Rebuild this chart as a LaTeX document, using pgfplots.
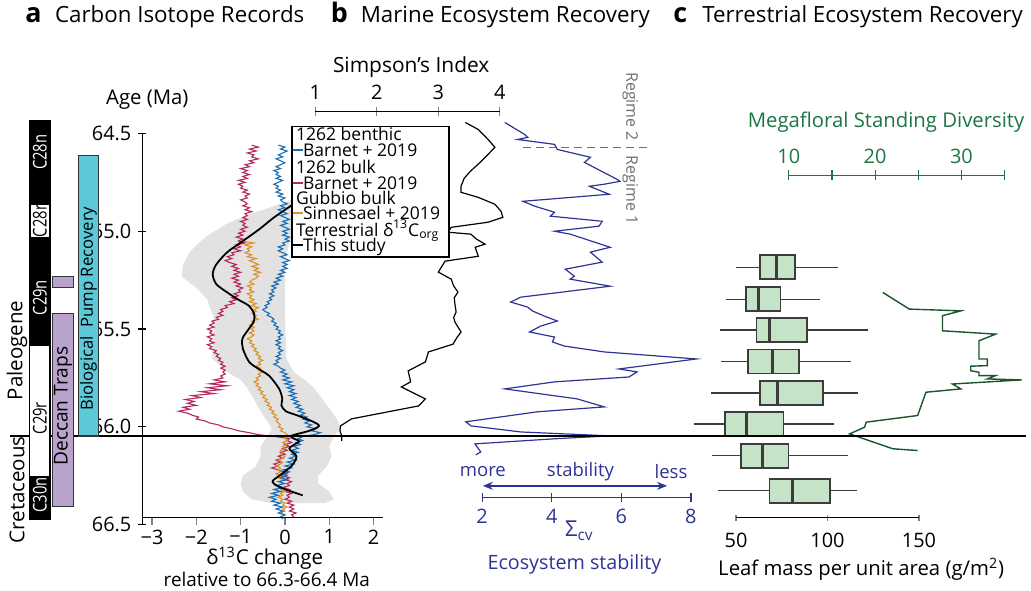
\documentclass[border=0pt]{standalone}
\usepackage{pgfplots}
\pgfplotsset{compat=1.18}
\usepackage{pgfplotstable}
\usepgfplotslibrary{fillbetween,statistics}
\usetikzlibrary{arrows.meta}
\usepackage{fontspec}
\setmainfont{Open Sans}
\newfontfamily\narrowfont[FakeStretch=0.78]{Open Sans}
\newcommand{\fs}[1]{\fontsize{#1pt}{#1pt}\selectfont}

\definecolor{cBlue}{RGB}{25,110,180}
\definecolor{cRed}{RGB}{180,40,95}
\definecolor{cOrange}{RGB}{222,145,40}
\definecolor{cBand}{RGB}{226,226,226}
\definecolor{sigBlue}{RGB}{46,52,150}
\definecolor{megaGreen}{RGB}{28,118,68}
\definecolor{lineGreen}{RGB}{25,85,40}
\definecolor{boxFill}{RGB}{197,227,199}
\definecolor{boxEdge}{RGB}{60,60,60}
\definecolor{deccan}{RGB}{185,163,206}
\definecolor{pump}{RGB}{92,200,216}
\definecolor{regGray}{RGB}{110,110,110}

\pgfplotstableread{
ma d
64.56 -0.75
64.57 -0.6
64.58 -0.8
64.59 -0.65
64.60 -0.85
64.61 -0.7
64.62 -0.75
64.63 -0.6
64.64 -0.8
64.65 -0.7
64.66 -0.9
64.67 -0.8
64.68 -1.0
64.69 -0.85
64.70 -0.95
64.71 -0.8
64.72 -0.95
64.73 -0.85
64.74 -1.05
64.75 -0.9
64.76 -1.05
64.77 -0.95
64.78 -1.0
64.79 -0.85
64.80 -0.95
64.81 -0.8
64.82 -0.9
64.83 -0.85
64.84 -1.0
64.85 -0.9
64.86 -0.85
64.87 -0.95
64.88 -0.8
64.89 -0.9
64.90 -0.75
64.91 -0.9
64.92 -0.85
64.93 -0.95
64.94 -0.85
64.95 -1.0
64.96 -0.9
64.97 -0.95
64.98 -0.85
64.99 -1.0
65.00 -0.9
65.01 -1.05
65.02 -0.95
65.03 -1.1
65.04 -0.95
65.05 -1.05
65.06 -0.9
65.07 -1.1
65.08 -1.0
65.09 -1.15
65.10 -1.0
65.11 -1.2
65.12 -1.15
65.13 -1.3
65.14 -1.2
65.15 -1.35
65.16 -1.25
65.17 -1.1
65.18 -1.2
65.19 -1.05
65.20 -1.15
65.21 -1.0
65.22 -1.15
65.23 -1.05
65.24 -1.2
65.25 -1.05
65.26 -1.15
65.27 -1.0
65.28 -1.1
65.29 -0.95
65.30 -1.05
65.31 -1.0
65.32 -1.15
65.33 -1.05
65.34 -1.2
65.35 -1.1
65.36 -1.25
65.37 -1.15
65.38 -1.35
65.39 -1.3
65.40 -1.45
65.41 -1.4
65.42 -1.5
65.43 -1.4
65.44 -1.55
65.45 -1.5
65.46 -1.65
65.47 -1.6
65.48 -1.7
65.49 -1.6
65.50 -1.75
65.51 -1.65
65.52 -1.7
65.53 -1.6
65.54 -1.75
65.55 -1.65
65.56 -1.7
65.57 -1.6
65.58 -1.75
65.59 -1.65
65.60 -1.7
65.61 -1.55
65.62 -1.6
65.63 -1.5
65.64 -1.55
65.65 -1.45
65.66 -1.5
65.67 -1.4
65.68 -1.45
65.69 -1.35
65.70 -1.45
65.71 -1.35
65.72 -1.4
65.73 -1.35
65.74 -1.45
65.75 -1.4
65.76 -1.6
65.77 -1.35
65.78 -1.7
65.79 -1.3
65.80 -1.75
65.81 -1.45
65.82 -1.9
65.83 -1.6
65.84 -2.1
65.85 -1.9
65.86 -2.25
65.87 -2.05
65.88 -2.2
65.89 -2.0
65.90 -2.3
65.91 -2.15
65.92 -2.4
65.93 -2.2
65.94 -2.1
65.95 -1.95
65.96 -2.0
65.97 -1.8
65.98 -1.7
65.99 -1.5
66.00 -1.4
66.01 -1.2
66.02 -1.05
66.03 -0.8
66.04 -0.6
66.05 -0.2
66.06 0.1
66.07 0.05
66.08 0.15
66.09 0.0
66.10 0.1
66.11 -0.05
66.12 0.05
66.13 -0.1
66.14 0.0
66.15 -0.15
66.16 -0.05
66.17 -0.2
66.18 -0.1
66.19 -0.25
66.20 -0.15
66.21 -0.3
66.22 -0.15
66.23 -0.05
66.24 0.05
66.25 -0.1
66.26 0.1
66.27 0.0
66.28 0.15
66.29 0.05
66.30 0.1
66.31 -0.05
66.32 0.1
66.33 0.0
66.34 0.15
66.35 0.05
66.36 0.1
66.37 0.0
66.38 0.15
66.39 0.05
66.40 0.2
66.41 0.1
66.42 0.2
66.43 0.1
66.44 0.25
66.45 0.15
66.46 0.2
}\tRed

\pgfplotstableread{
ma d
64.56 -0.15
64.57 0.0
64.58 -0.1
64.59 0.05
64.60 -0.05
64.61 -0.15
64.62 -0.05
64.63 -0.2
64.64 -0.1
64.65 0.0
64.66 -0.1
64.67 -0.2
64.68 -0.1
64.69 -0.25
64.70 -0.15
64.71 -0.2
64.72 -0.1
64.73 -0.2
64.74 -0.05
64.75 -0.15
64.76 -0.25
64.77 -0.15
64.78 -0.2
64.79 -0.1
64.80 -0.2
64.81 -0.05
64.82 -0.15
64.83 0.0
64.84 -0.1
64.85 -0.05
64.86 0.05
64.87 -0.1
64.88 0.0
64.89 -0.15
64.90 -0.05
64.91 0.05
64.92 -0.1
64.93 0.0
64.94 0.1
64.95 -0.05
64.96 0.05
64.97 -0.1
64.98 0.0
64.99 0.1
65.00 -0.05
65.01 0.05
65.02 -0.05
65.03 0.1
65.04 0.0
65.05 0.1
65.06 -0.05
65.07 0.0
65.08 -0.15
65.09 -0.05
65.10 -0.15
65.11 -0.05
65.12 0.05
65.13 -0.1
65.14 0.0
65.15 0.1
65.16 -0.05
65.17 0.05
65.18 -0.05
65.19 0.05
65.20 -0.1
65.21 0.0
65.22 -0.15
65.23 -0.05
65.24 -0.2
65.25 -0.1
65.26 -0.25
65.27 -0.15
65.28 -0.3
65.29 -0.2
65.30 -0.3
65.31 -0.25
65.32 -0.35
65.33 -0.25
65.34 -0.35
65.35 -0.3
65.36 -0.4
65.37 -0.35
65.38 -0.45
65.39 -0.4
65.40 -0.5
65.41 -0.45
65.42 -0.35
65.43 -0.4
65.44 -0.3
65.45 -0.25
65.46 -0.3
65.47 -0.2
65.48 -0.25
65.49 -0.15
65.50 -0.2
65.51 -0.1
65.52 -0.15
65.53 -0.05
65.54 -0.15
65.55 -0.1
65.56 -0.2
65.57 -0.1
65.58 -0.2
65.59 -0.1
65.60 -0.15
65.61 -0.05
65.62 -0.15
65.63 -0.1
65.64 -0.2
65.65 -0.1
65.66 -0.2
65.67 -0.15
65.68 -0.25
65.69 -0.15
65.70 -0.1
65.71 0.0
65.72 -0.1
65.73 0.05
65.74 -0.05
65.75 0.1
65.76 -0.05
65.77 0.15
65.78 0.0
65.79 0.2
65.80 0.05
65.81 0.2
65.82 0.1
65.83 0.25
65.84 0.1
65.85 0.25
65.86 0.15
65.87 0.3
65.88 0.2
65.89 0.35
65.90 0.25
65.91 0.4
65.92 0.3
65.93 0.45
65.94 0.35
65.95 0.5
65.96 0.4
65.97 0.55
65.98 0.45
65.99 0.6
66.00 0.5
66.01 0.7
66.02 0.6
66.03 0.8
66.04 0.65
66.05 0.4
66.06 0.3
66.07 0.4
66.08 0.25
66.09 0.35
66.10 0.2
66.11 0.3
66.12 0.15
66.13 0.3
66.14 0.15
66.15 0.25
66.16 0.1
66.17 0.25
66.18 0.05
66.19 0.2
66.20 0.0
66.21 0.15
66.22 -0.05
66.23 0.1
66.24 -0.05
66.25 0.05
66.26 -0.1
66.27 0.05
66.28 -0.15
66.29 0.0
66.30 -0.2
66.31 -0.05
66.32 -0.25
66.33 -0.1
66.34 -0.3
66.35 -0.15
66.36 -0.35
66.37 -0.2
66.38 -0.3
66.39 -0.1
66.40 -0.25
66.41 -0.05
66.42 -0.2
66.43 -0.05
66.44 -0.15
66.45 0.0
66.46 -0.1
66.47 -0.05
}\tBlue

\pgfplotstableread{
ma d
65.05 -1.0
65.06 -0.7
65.07 -0.9
65.08 -0.75
65.09 -0.85
65.10 -0.8
65.11 -0.9
65.12 -0.75
65.13 -0.85
65.14 -0.65
65.15 -0.8
65.16 -0.7
65.17 -0.6
65.18 -0.75
65.19 -0.6
65.20 -0.7
65.21 -0.55
65.22 -0.7
65.23 -0.6
65.24 -0.65
65.25 -0.75
65.26 -0.8
65.27 -0.7
65.28 -0.85
65.29 -0.75
65.30 -0.8
65.31 -0.7
65.32 -0.85
65.33 -0.75
65.34 -0.8
65.35 -0.7
65.36 -0.8
65.37 -0.65
65.38 -0.75
65.39 -0.6
65.40 -0.7
65.41 -0.65
65.42 -0.75
65.43 -0.65
65.44 -0.7
65.45 -0.6
65.46 -0.75
65.47 -0.7
65.48 -0.8
65.49 -0.7
65.50 -0.75
65.51 -0.7
65.52 -0.8
65.53 -0.7
65.54 -0.75
65.55 -0.85
65.56 -0.75
65.57 -0.8
65.58 -0.7
65.59 -0.75
65.60 -0.65
65.61 -0.7
65.62 -0.6
65.63 -0.65
65.64 -0.55
65.65 -0.6
65.66 -0.5
65.67 -0.6
65.68 -0.55
65.69 -0.65
65.70 -0.55
65.71 -0.6
65.72 -0.5
65.73 -0.6
65.74 -0.55
65.75 -0.65
65.76 -0.6
65.77 -0.7
65.78 -0.6
65.79 -0.65
65.80 -0.55
65.81 -0.6
65.82 -0.5
65.83 -0.55
65.84 -0.45
65.85 -0.5
65.86 -0.4
65.87 -0.45
65.88 -0.35
65.89 -0.4
65.90 -0.3
65.91 -0.35
65.92 -0.25
65.93 -0.3
65.94 -0.2
65.95 -0.25
65.96 -0.15
65.97 -0.2
65.98 -0.15
65.99 -0.1
66.00 -0.15
66.01 -0.05
66.02 -0.1
66.03 0.0
66.04 0.05
66.05 0.1
66.06 0.0
66.07 0.05
66.08 -0.05
66.09 0.05
66.10 -0.05
66.11 0.0
66.12 -0.1
66.13 -0.05
66.14 -0.1
66.15 0.0
66.16 -0.05
66.17 -0.15
66.18 -0.05
66.19 -0.1
66.20 -0.2
66.21 -0.1
66.22 -0.15
66.23 -0.1
66.24 -0.2
66.25 -0.1
66.26 -0.15
66.27 -0.05
66.28 -0.1
66.29 -0.05
66.30 -0.15
66.31 -0.05
66.32 -0.1
66.33 0.0
66.34 -0.1
66.35 -0.05
66.36 -0.15
66.37 -0.05
66.38 -0.1
66.39 0.0
66.40 -0.05
66.41 0.05
66.42 -0.05
66.43 0.0
66.44 -0.1
66.45 0.0
}\tOrange

\pgfplotstableread{
ma d
64.80 0.6
64.871 0.13
64.93 -0.25
64.99 -0.58
65.05 -0.95
65.107 -1.3
65.17 -1.55
65.22 -1.63
65.27 -1.55
65.31 -1.32
65.35 -1.05
65.38 -0.82
65.42 -0.7
65.46 -0.7
65.51 -0.85
65.55 -0.96
65.60 -0.95
65.67 -0.8
65.71 -0.55
65.74 -0.35
65.806 -0.13
65.857 -0.06
65.89 -0.08
65.92 0.02
65.94 0.26
65.97 0.6
65.995 0.77
66.02 0.55
66.045 0.15
66.06 0.2
66.075 0.32
66.11 0.1
66.15 0.26
66.20 0.15
66.25 -0.13
66.28 -0.28
66.31 -0.1
66.35 0.4
}\tBlack

\pgfplotstableread{
ma lo hi
64.80 0.6 1.5
64.837 0.17 1.3
64.88 -0.35 0.9
64.913 -0.8 0.6
64.96 -1.3 0.35
65.015 -1.7 0.2
65.06 -1.95 0.1
65.107 -2.15 0.05
65.17 -2.3 0.0
65.23 -2.33 0.0
65.30 -1.95 0.0
65.35 -1.75 0.0
65.45 -1.6 0.0
65.55 -1.62 0.02
65.65 -1.65 0.03
65.72 -1.3 0.2
65.76 -1.0 0.45
65.80 -0.85 0.65
65.86 -0.7 0.85
65.92 -0.55 1.05
65.97 -0.4 1.2
66.01 -0.3 1.25
66.05 -0.4 1.1
66.10 -0.55 1.0
66.15 -0.55 1.05
66.20 -0.65 0.95
66.25 -0.95 0.75
66.29 -1.0 0.75
66.33 -0.95 1.0
66.37 -0.75 1.1
66.39 -0.3 0.9
}\tBand

\pgfplotstableread{
ma s
64.444 3.44
64.480 3.65
64.531 3.81
64.571 3.92
64.607 3.81
64.648 3.68
64.694 3.52
64.730 3.42
64.770 3.37
64.801 3.37
64.827 3.65
64.862 3.92
64.898 4.02
64.929 4.05
64.954 3.81
64.980 3.21
65.005 3.16
65.015 3.53
65.040 3.62
65.066 3.76
65.082 3.60
65.128 3.65
65.153 3.11
65.209 3.00
65.245 3.21
65.280 3.25
65.311 3.32
65.340 3.26
65.372 3.27
65.413 3.29
65.440 3.25
65.464 3.27
65.515 3.37
65.545 3.30
65.577 3.24
65.617 2.84
65.668 2.79
65.714 2.51
65.770 2.55
65.796 2.40
65.857 2.79
65.893 2.68
65.959 1.59
65.995 1.41
66.020 1.40
66.046 1.43
66.071 1.43
}\tSimp

\pgfplotstableread{
ma s
64.444 2.65
64.505 3.22
64.520 3.31
64.531 3.02
64.556 4.08
64.582 4.16
64.622 5.11
64.648 4.94
64.700 5.50
64.735 5.88
64.745 5.96
64.760 5.50
64.770 5.08
64.811 5.65
64.847 3.17
64.872 3.51
64.903 4.08
64.923 3.96
64.949 5.45
64.974 5.36
65.000 4.08
65.015 4.53
65.082 5.68
65.107 5.11
65.158 5.45
65.194 4.39
65.230 4.65
65.245 4.53
65.281 5.68
65.337 3.11
65.362 2.82
65.388 3.31
65.408 3.45
65.434 3.79
65.459 4.16
65.485 3.68
65.515 3.36
65.541 4.08
65.566 4.02
65.587 4.36
65.617 5.51
65.653 8.16
65.704 5.93
65.719 6.45
65.745 6.22
65.770 4.08
65.806 2.65
65.857 4.73
65.898 5.51
65.923 3.59
65.974 1.53
65.995 1.68
66.026 3.11
66.046 5.65
66.061 4.08
66.087 1.79
66.128 1.96
66.143 1.82
}\tSig

\pgfplotstableread{
ma g
65.313 20.89
65.398 23.96
65.407 29.93
65.432 27.81
65.509 27.81
65.526 33.96
65.560 32.04
65.653 32.04
65.653 33.01
65.687 33.01
65.690 31.08
65.713 31.08
65.721 32.04
65.738 32.04
65.738 33.96
65.755 33.01
65.760 36.97
65.781 28.97
65.806 29.93
65.823 25.89
65.942 24.93
65.976 18.97
66.002 18.77
66.036 17.04
66.112 22.05
66.121 24.93
}\tMega

\pgfplotsset{
  dataaxis/.style={scale only axis, anchor=north west, y dir=reverse,
    ymin=64.5, ymax=66.5, height=196.5pt, hide axis, clip=false},
  deco/.style={scale only axis, hide y axis, ymin=0, ymax=1, height=10pt,
    axis line style={-,line width=0.6pt}, tick style={line width=0.6pt},
    tick label style={font=\fs{10}}, /pgf/number format/assume math mode=true,
    tick align=center},
}

\begin{document}
\begin{tikzpicture}
\begin{scope}[x=0.5pt,y=-0.5pt]
\path[use as bounding box] (0,0) rectangle (1031,593);
\end{scope}

% ---------- panel a data ----------
\begin{axis}[scale only axis, anchor=north west, at={(71.5pt,-67pt)},
  width=121pt, height=196.5pt, xmin=-3.218, xmax=2.22, ymin=64.5, ymax=66.5,
  y dir=reverse, clip=false, hide x axis, axis y line*=left,
  axis line style={-,line width=0.6pt},
  ytick={64.5,65,65.5,66,66.5},
  yticklabel style={font=\fs{10}, /pgf/number format/.cd, fixed, fixed zerofill, precision=1, assume math mode=true},
  tick align=center, major tick length=4pt, tick style={line width=0.6pt, black}]
\addplot[name path=bandlo, draw=none] table[x=lo, y=ma]{\tBand};
\addplot[name path=bandhi, draw=none] table[x=hi, y=ma]{\tBand};
\addplot[cBand, draw=none] fill between[of=bandlo and bandhi];
\addplot[cRed, line width=0.55pt] table[x=d, y=ma]{\tRed};
\addplot[cOrange, line width=0.55pt] table[x=d, y=ma]{\tOrange};
\addplot[cBlue, line width=0.55pt] table[x=d, y=ma]{\tBlue};
\addplot[black, line width=0.9pt, smooth] table[x=d, y=ma]{\tBlack};
\end{axis}
\begin{axis}[deco, anchor=north west, at={(71.5pt,-67pt)}, width=121pt, height=193pt,
  xmin=-3.218, xmax=2.22, axis x line*=bottom, xtick={-3,-2,-1,0,1,2},
  xticklabels={−3,−2,−1,0,1,2}, tick align=outside, major tick length=3.5pt,
  xticklabel style={yshift=1pt}]
\end{axis}

% ---------- panel b: Simpson ----------
\begin{axis}[dataaxis, at={(158.35pt,-67pt)}, width=92.65pt, xmin=1, xmax=4]
\addplot[black, line width=0.6pt] table[x=s, y=ma]{\tSimp};
\end{axis}
\begin{axis}[deco, anchor=north west, at={(158.35pt,-56pt)}, width=92.65pt,
  xmin=1, xmax=4, axis x line*=top, xtick={1,2,3,4}, major tick length=5pt]
\end{axis}

% ---------- panel b: Sigma cv ----------
\begin{axis}[dataaxis, at={(242.15pt,-67pt)}, width=104.85pt, xmin=2, xmax=8]
\addplot[sigBlue, line width=0.6pt] table[x=s, y=ma]{\tSig};
\draw[regGray, line width=0.6pt, dash pattern=on 4pt off 2.5pt] (axis cs:3.163,64.571) -- (axis cs:6.734,64.571);
\end{axis}
\begin{axis}[deco, anchor=south west, at={(242.15pt,-250pt)}, width=104.85pt,
  xmin=2, xmax=8, axis x line*=bottom, xtick={2,4,6,8}, major tick length=4.5pt,
  axis line style={sigBlue}, tick style={sigBlue}, every tick label/.append style={text=sigBlue}]
\end{axis}

% ---------- panel c: LMA boxplots ----------
\begin{axis}[dataaxis, at={(369.65pt,-67pt)}, width=91.85pt, xmin=50, xmax=150,
  boxplot/draw direction=x,
  boxplot/every median/.style={line width=1.6pt},
  boxplot/every whisker/.style={line width=0.6pt}]
\addplot[boxplot prepared={lower whisker=50, lower quartile=63, median=72.2, upper quartile=82.4, upper whisker=105.8, draw position=65.184, box extend=0.1224, whisker extend=0}, draw=boxEdge, fill=boxFill, line width=0.9pt] coordinates {};
\addplot[boxplot prepared={lower whisker=44.4, lower quartile=55.3, median=62.3, upper quartile=74.3, upper whisker=96, draw position=65.347, box extend=0.1224, whisker extend=0}, draw=boxEdge, fill=boxFill, line width=0.9pt] coordinates {};
\addplot[boxplot prepared={lower whisker=41.1, lower quartile=61.2, median=68.3, upper quartile=89, upper whisker=122.1, draw position=65.505, box extend=0.1224, whisker extend=0}, draw=boxEdge, fill=boxFill, line width=0.9pt] coordinates {};
\addplot[boxplot prepared={lower whisker=41.7, lower quartile=56.4, median=69.9, upper quartile=84.6, upper whisker=112.9, draw position=65.666, box extend=0.1224, whisker extend=0}, draw=boxEdge, fill=boxFill, line width=0.9pt] coordinates {};
\addplot[boxplot prepared={lower whisker=36.2, lower quartile=62.9, median=72.7, upper quartile=97.7, upper whisker=116.6, draw position=65.827, box extend=0.1224, whisker extend=0}, draw=boxEdge, fill=boxFill, line width=0.9pt] coordinates {};
\addplot[boxplot prepared={lower whisker=27, lower quartile=43.9, median=55.8, upper quartile=75.9, upper whisker=103.6, draw position=65.985, box extend=0.1224, whisker extend=0}, draw=boxEdge, fill=boxFill, line width=0.9pt] coordinates {};
\addplot[boxplot prepared={lower whisker=36.8, lower quartile=52.5, median=64.5, upper quartile=78.7, upper whisker=111.2, draw position=66.148, box extend=0.1224, whisker extend=0}, draw=boxEdge, fill=boxFill, line width=0.9pt] coordinates {};
\addplot[boxplot prepared={lower whisker=40.1, lower quartile=68.3, median=80.8, upper quartile=101.5, upper whisker=116.1, draw position=66.327, box extend=0.1224, whisker extend=0}, draw=boxEdge, fill=boxFill, line width=0.9pt] coordinates {};
\end{axis}
\begin{axis}[deco, anchor=south west, at={(369.65pt,-260pt)}, width=91.85pt,
  xmin=50, xmax=150, axis x line*=bottom, xtick={50,100,150}, major tick length=3pt,
  xticklabel style={yshift=-2.5pt}]
\end{axis}

% ---------- panel c: megafloral ----------
\begin{axis}[dataaxis, at={(396.15pt,-67pt)}, width=108.35pt, xmin=10, xmax=35]
\addplot[lineGreen, line width=0.7pt] table[x=g, y=ma]{\tMega};
\end{axis}
\begin{axis}[deco, anchor=north west, at={(396.15pt,-88pt)}, width=108.35pt,
  xmin=10, xmax=35, axis x line*=top, xtick={10,15,20,25,30,35},
  xticklabels={10,,20,,30,}, major tick length=5pt,
  axis line style={megaGreen}, tick style={megaGreen}, every tick label/.append style={text=megaGreen}]
\end{axis}

% ---------- annotations ----------
\begin{scope}[x=0.5pt,y=-0.5pt]
% K-Pg boundary
\draw[line width=0.8pt] (10,438) -- (1031,438);
% magnetostratigraphy
\fill[black] (29,121) rectangle (51,522);
\fill[white] (31,206) rectangle (49,238);
\fill[white] (30.5,348) rectangle (49.5,478);
\begin{scope}[every node/.style={rotate=90, font=\narrowfont\fs{9.5}, inner sep=0}]
\node[text=white] at (40,153) {C28n};
\node[text=black] at (40,222) {C28r};
\node[text=white] at (40,299) {C29n};
\node[text=black] at (40,420) {C29r};
\node[text=white] at (40,497) {C30n};
\end{scope}
\node[rotate=90, font=\fs{10.3}, inner sep=0] at (17,352) {Paleogene};
\node[rotate=90, font=\fs{10.3}, inner sep=0] at (17,492) {Cretaceous};
% Deccan traps and biological pump
\filldraw[fill=deccan, draw=black!80, line width=0.6pt] (53,315) rectangle (74,509);
\filldraw[fill=deccan, draw=black!80, line width=0.6pt] (53,278) rectangle (74,289);
\node[rotate=90, font=\fs{9.6}, inner sep=0] at (63.5,408) {Deccan Traps};
\filldraw[fill=pump, draw=black!80, line width=0.6pt] (79,156) rectangle (99,438);
\node[rotate=90, font=\fs{8.4}, inner sep=0] at (89,310) {Biological\ \ Pump Recovery};
% legend
\filldraw[fill=white, draw=black, line width=0.8pt] (293,127) rectangle (451,258);
\begin{scope}[every node/.style={anchor=base west, font=\fs{8.8}, inner sep=0}]
\node at (297,141) {1262 benthic};
\node at (294,157) {\textcolor{cBlue}{\rule[0.28em]{5pt}{1pt}}Barnet + 2019};
\node at (297,174) {1262 bulk};
\node at (294,190) {\textcolor{cRed}{\rule[0.28em]{5pt}{1pt}}Barnet + 2019};
\node at (297,205) {Gubbio bulk};
\node at (294,220) {\textcolor{cOrange}{\rule[0.28em]{5pt}{1pt}}Sinnesael + 2019};
\node at (297,237.5) {Terrestrial δ\smash{\textsuperscript{13}}C\smash{\textsubscript{org}}};
\node at (294,252.5) {\rule[0.28em]{5pt}{1pt}This study};
\end{scope}
% titles
\node[anchor=base west, font=\fs{13.5}\bfseries, inner sep=0] at (25,23) {a};
\node[anchor=base west, font=\fs{11.2}, inner sep=0] at (55,23) {Carbon Isotope Records};
\node[anchor=base west, font=\fs{13.5}\bfseries, inner sep=0] at (332,23) {b};
\node[anchor=base west, font=\fs{11.2}, inner sep=0] at (362,23) {Marine Ecosystem Recovery};
\node[anchor=base west, font=\fs{13.5}\bfseries, inner sep=0] at (676,23) {c};
\node[anchor=base west, font=\fs{11.2}, inner sep=0] at (705,23) {Terrestrial Ecosystem Recovery};
% axis titles
\node[font=\fs{10.2}] at (148,100) {Age (Ma)};
\node[anchor=base, font=\fs{10.3}, inner sep=0] at (266,567) {δ\textsuperscript{13}C change};
\node[anchor=base, font=\fs{9.5}, inner sep=0] at (268,589) {relative to 66.3-66.4 Ma};
\node[font=\fs{10.5}] at (413,67) {Simpson's Index};
\node[rotate=-90, font=\fs{8}, text=regGray] at (633,107) {Regime 2};
\node[rotate=-90, font=\fs{8}, text=regGray] at (633,191) {Regime 1};
\node[font=\fs{9.3}, text=sigBlue] at (485,474) {more};
\node[font=\fs{9.3}, text=sigBlue] at (583,474) {stability};
\node[font=\fs{9.3}, text=sigBlue] at (674,474) {less};
\draw[sigBlue, line width=0.8pt, {Stealth[length=5pt,width=4pt]}-{Stealth[length=5pt,width=4pt]}] (485,488) -- (670,488);
\node[font=\fs{11}, text=sigBlue] at (582,533) {Σ\textsubscript{cv}};
\node[font=\fs{9.9}, text=sigBlue] at (577,567) {Ecosystem stability};
\node[font=\fs{10.2}, text=megaGreen] at (890,123) {Megafloral Standing Diversity};
\node[font=\fs{10.2}] at (865,572) {Leaf mass per unit area (g/m\textsuperscript{2})};
\end{scope}
\end{tikzpicture}
\end{document}
